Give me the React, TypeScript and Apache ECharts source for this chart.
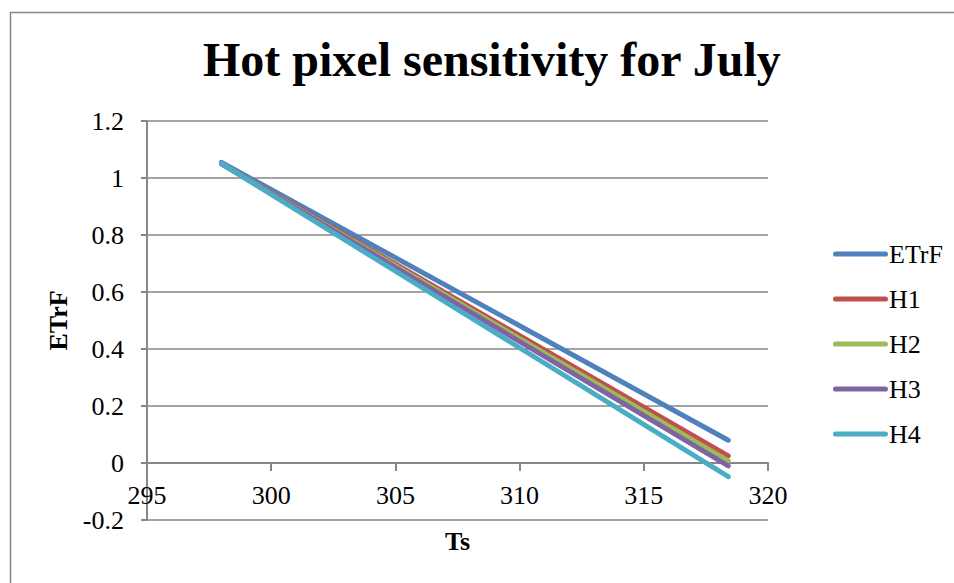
import React, { useEffect, useRef } from "react";
import * as echarts from "echarts";

// Surface temperature (K) at the two ends of each run
const ts = [298, 318.4];
const seriesNames = ["ETrF", "H1", "H2", "H3", "H4"];
const etrf = [1.055, 0.08];
const h1 = [1.05, 0.025];
const h2 = [1.05, 0.007];
const h3 = [1.05, -0.01];
const h4 = [1.05, -0.048];
const colors = ["#4F81BD", "#C0504D", "#9BBB59", "#8064A2", "#4BACC6"];

const FONT = "'Liberation Serif', 'Times New Roman', serif";

const tickText = { fontFamily: FONT, fontSize: 26, color: "#000" };

export default function App() {
  const ref = useRef<HTMLDivElement>(null);
  useEffect(() => {
    if (!ref.current) return;
    const chart = echarts.init(ref.current, undefined, { renderer: "svg" });
    const all = [etrf, h1, h2, h3, h4];
    const plotHeight = 583 - 121 - 63;
    const yMin = -0.2;
    const yMax = 1.2;
    // x axis sits on y = 0, one step above the bottom of the plot
    const xAxisOffset = -plotHeight * (0 - yMin) / (yMax - yMin);
    chart.setOption({
      animation: false,
      backgroundColor: "#ffffff",
      textStyle: { fontFamily: FONT, color: "#000" },
      title: {
        text: "Hot pixel sensitivity for July",
        left: 198,
        top: 30,
        textStyle: { fontFamily: FONT, fontSize: 48, fontWeight: "bold", color: "#000" },
      },
      graphic: [
        {
          type: "rect",
          shape: { x: 10.5, y: 12.5, width: 1000, height: 700 },
          style: { fill: "none", stroke: "#868686", lineWidth: 1.5 },
          silent: true,
          z: -1,
        },
      ],
      legend: {
        orient: "vertical",
        left: 828,
        top: 236,
        itemWidth: 55,
        itemHeight: 26,
        itemGap: 19,
        data: seriesNames.map((n, i) => ({
          name: n,
          icon: "path://M3,11 L52,11 A2.5,2.5 0 0 1 52,16 L3,16 A2.5,2.5 0 0 1 3,11 Z",
          itemStyle: { color: colors[i] },
        })),
        textStyle: { fontFamily: FONT, fontSize: 26, lineHeight: 26, color: "#000", padding: [0, 0, 0, -4] },
      },
      grid: { left: 147, right: 186, top: 121, bottom: 63, containLabel: false, outerBoundsMode: "none" },
      xAxis: {
        type: "value",
        min: 295,
        max: 320,
        interval: 5,
        offset: xAxisOffset,
        name: "Ts",
        nameLocation: "middle",
        nameGap: 65,
        nameTextStyle: { fontFamily: FONT, fontSize: 26, fontWeight: "bold", color: "#000" },
        axisLine: { onZero: false, lineStyle: { color: "#868686", width: 2 } },
        axisTick: { show: true, length: 8, lineStyle: { color: "#868686", width: 2 } },
        axisLabel: { margin: 19, ...tickText },
        splitLine: { show: false },
      },
      yAxis: {
        type: "value",
        min: yMin,
        max: yMax,
        interval: 0.2,
        name: "ETrF",
        nameLocation: "middle",
        nameGap: 75,
        nameTextStyle: { fontFamily: FONT, fontSize: 26, fontWeight: "bold", color: "#000" },
        axisLine: { show: true, lineStyle: { color: "#868686", width: 2 } },
        axisTick: { show: true, length: 6, lineStyle: { color: "#868686", width: 2 } },
        axisLabel: {
          margin: 23,
          ...tickText,
          formatter: (v: number) => String(+v.toFixed(1)),
        },
        splitLine: { show: true, lineStyle: { color: "#868686", width: 1.5 } },
      },
      series: seriesNames.map((n, i) => ({
        name: n,
        type: "line",
        data: ts.map((x, j) => [x, all[i][j]]),
        showSymbol: false,
        symbol: "none",
        color: colors[i],
        lineStyle: { color: colors[i], width: 5, cap: "round" },
        z: 2 + i,
      })),
    });
    return () => chart.dispose();
  }, []);
  return <div ref={ref} style={{ width: 954, height: 583, position: "absolute", left: 0, top: 0 }} />;
}
